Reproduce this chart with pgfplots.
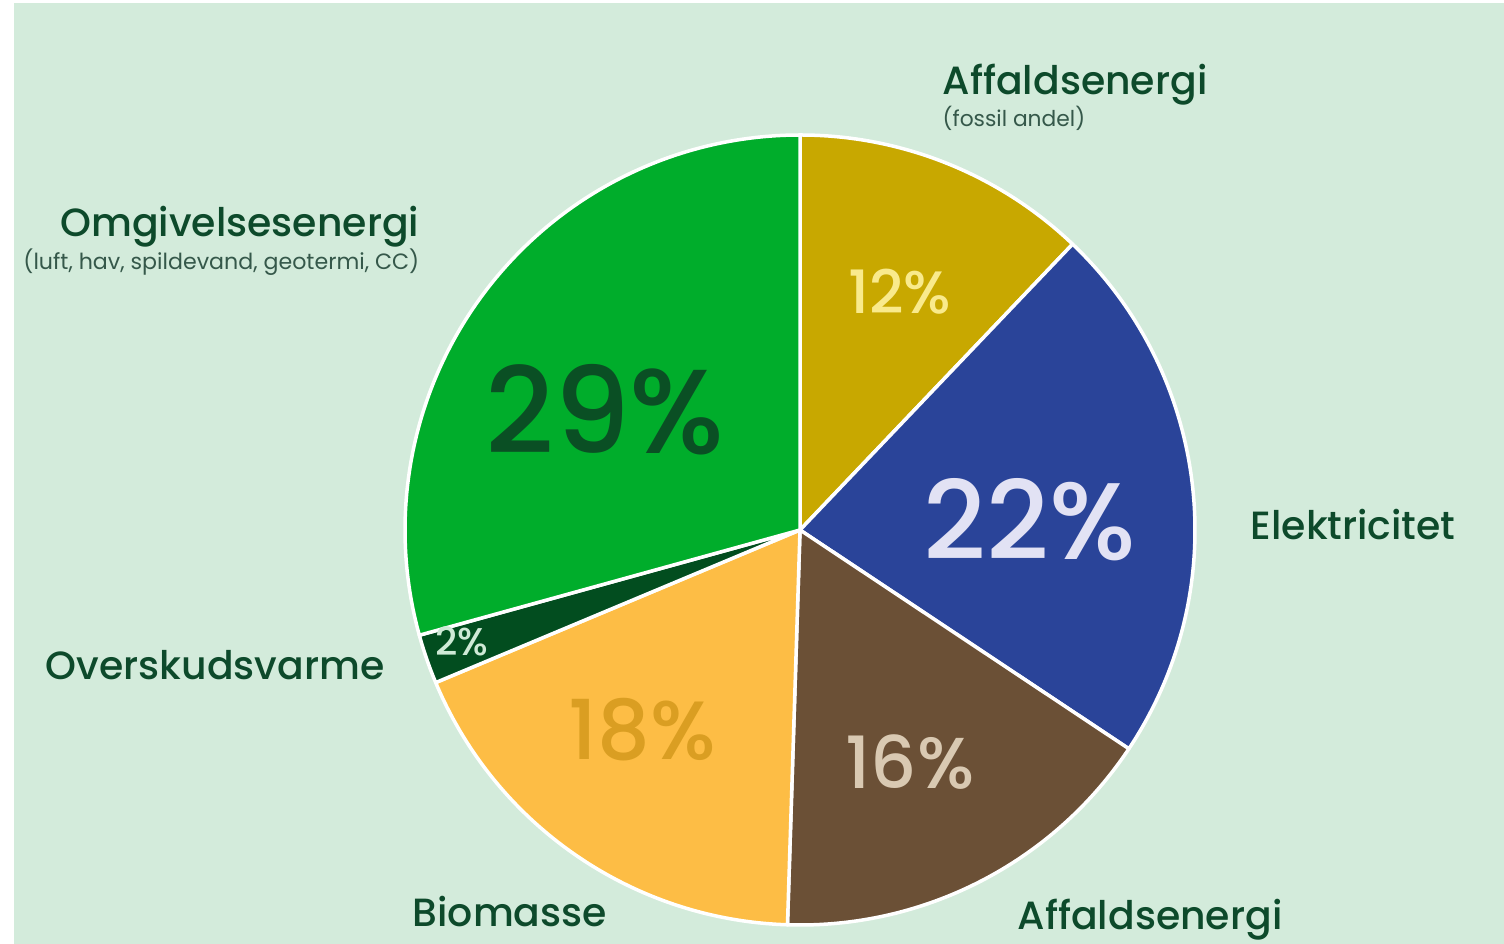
\documentclass[border=0pt]{standalone}
\usepackage{pgfplots}
\usepackage{pgfplotstable}
\pgfplotsset{compat=1.18}
\usepackage{fontspec}
\setmainfont{Poppins}
\newfontfamily\pmed{Poppins Medium}

\definecolor{bg}{HTML}{D3EBDB}
\definecolor{txt}{HTML}{0D4A2B}
\definecolor{sub}{HTML}{35584A}
\definecolor{s0}{HTML}{C8A800}
\definecolor{s1}{HTML}{2A4499}
\definecolor{s2}{HTML}{6B5036}
\definecolor{s3}{HTML}{FDBD45}
\definecolor{s4}{HTML}{024D1F}
\definecolor{s5}{HTML}{00AD2B}
\definecolor{p0}{HTML}{F9EA8C}
\definecolor{p1}{HTML}{E2E2F4}
\definecolor{p2}{HTML}{D9C9B2}
\definecolor{p3}{HTML}{DA9E22}
\definecolor{p4}{HTML}{CFEAD6}
\definecolor{p5}{HTML}{0A4F24}

% shares in %, clockwise from the top
\pgfplotstableread{
pct
12
22
16
18
2
29
}\shares

\begin{document}
\begin{tikzpicture}
\xdef\acc{90}
\foreach \i in {0,...,5}{
  \pgfplotstablegetelem{\i}{pct}\of\shares
  \pgfmathsetmacro\nxt{\acc-\pgfplotsretval*360/99}
  \expandafter\xdef\csname angA\i\endcsname{\acc}
  \expandafter\xdef\csname angB\i\endcsname{\nxt}
  \xdef\acc{\nxt}
}
\begin{axis}[
  name=ax,
  width=15.04cm, height=9.44cm, scale only axis,
  xmin=0, xmax=1504, ymin=0, ymax=944,
  hide axis, clip=false,
]
\fill[white] (axis cs:0,0) rectangle (axis cs:1504,944);
\fill[bg] (axis cs:14,0) rectangle (axis cs:1504,941);
\pgfplotsinvokeforeach{0,...,5}{
  \filldraw[fill=s#1, draw=white, line width=0.35mm, line join=round]
    (axis cs:800,414) -- ++(\csname angA#1\endcsname:3.95cm)
    arc[start angle=\csname angA#1\endcsname, end angle=\csname angB#1\endcsname, radius=3.95cm] -- cycle;
}
% percentages
\begin{scope}[every node/.style={inner sep=0}]
\node[font=\pmed\fontsize{17}{17}\selectfont, text=p0] at (axis cs:900,652) {12\%};
\node[font=\pmed\fontsize{34}{34}\selectfont, text=p5] at (axis cs:605,534) {29\%};
\node[font=\pmed\fontsize{31}{31}\selectfont, text=p1] at (axis cs:1030,424) {22\%};
\node[font=\pmed\fontsize{20.5}{20.5}\selectfont, text=p2] at (axis cs:910,182) {16\%};
\node[font=\pmed\fontsize{23.5}{23.5}\selectfont, text=p3] at (axis cs:642,214) {18\%};
\node[font=\pmed\fontsize{11}{11}\selectfont, text=p4] at (axis cs:462,303) {2\%};
\end{scope}
% category labels
\begin{scope}[every node/.style={inner sep=0, text=txt, font=\pmed\fontsize{11.2}{11.2}\selectfont}]
\node[anchor=base west] at (axis cs:942,849) {Affaldsenergi};
\node[anchor=base west, text=sub, font=\fontsize{6.2}{6.2}\selectfont] at (axis cs:942,817) {(fossil andel)};
\node[anchor=base east] at (axis cs:420,707) {Omgivelsesenergi};
\node[anchor=base east, text=sub, font=\fontsize{6.3}{6.3}\selectfont] at (axis cs:420,674) {(luft, hav, spildevand, geotermi, CC)};
\node[anchor=base west] at (axis cs:1250,404) {Elektricitet};
\node[anchor=base west] at (axis cs:45,264) {Overskudsvarme};
\node[anchor=base west] at (axis cs:412,17) {Biomasse};
\node[anchor=base west] at (axis cs:1017,14) {Affaldsenergi};
\end{scope}
\end{axis}
\pgfresetboundingbox
\path[use as bounding box] (ax.south west) rectangle (ax.north east);
\end{tikzpicture}
\end{document}
